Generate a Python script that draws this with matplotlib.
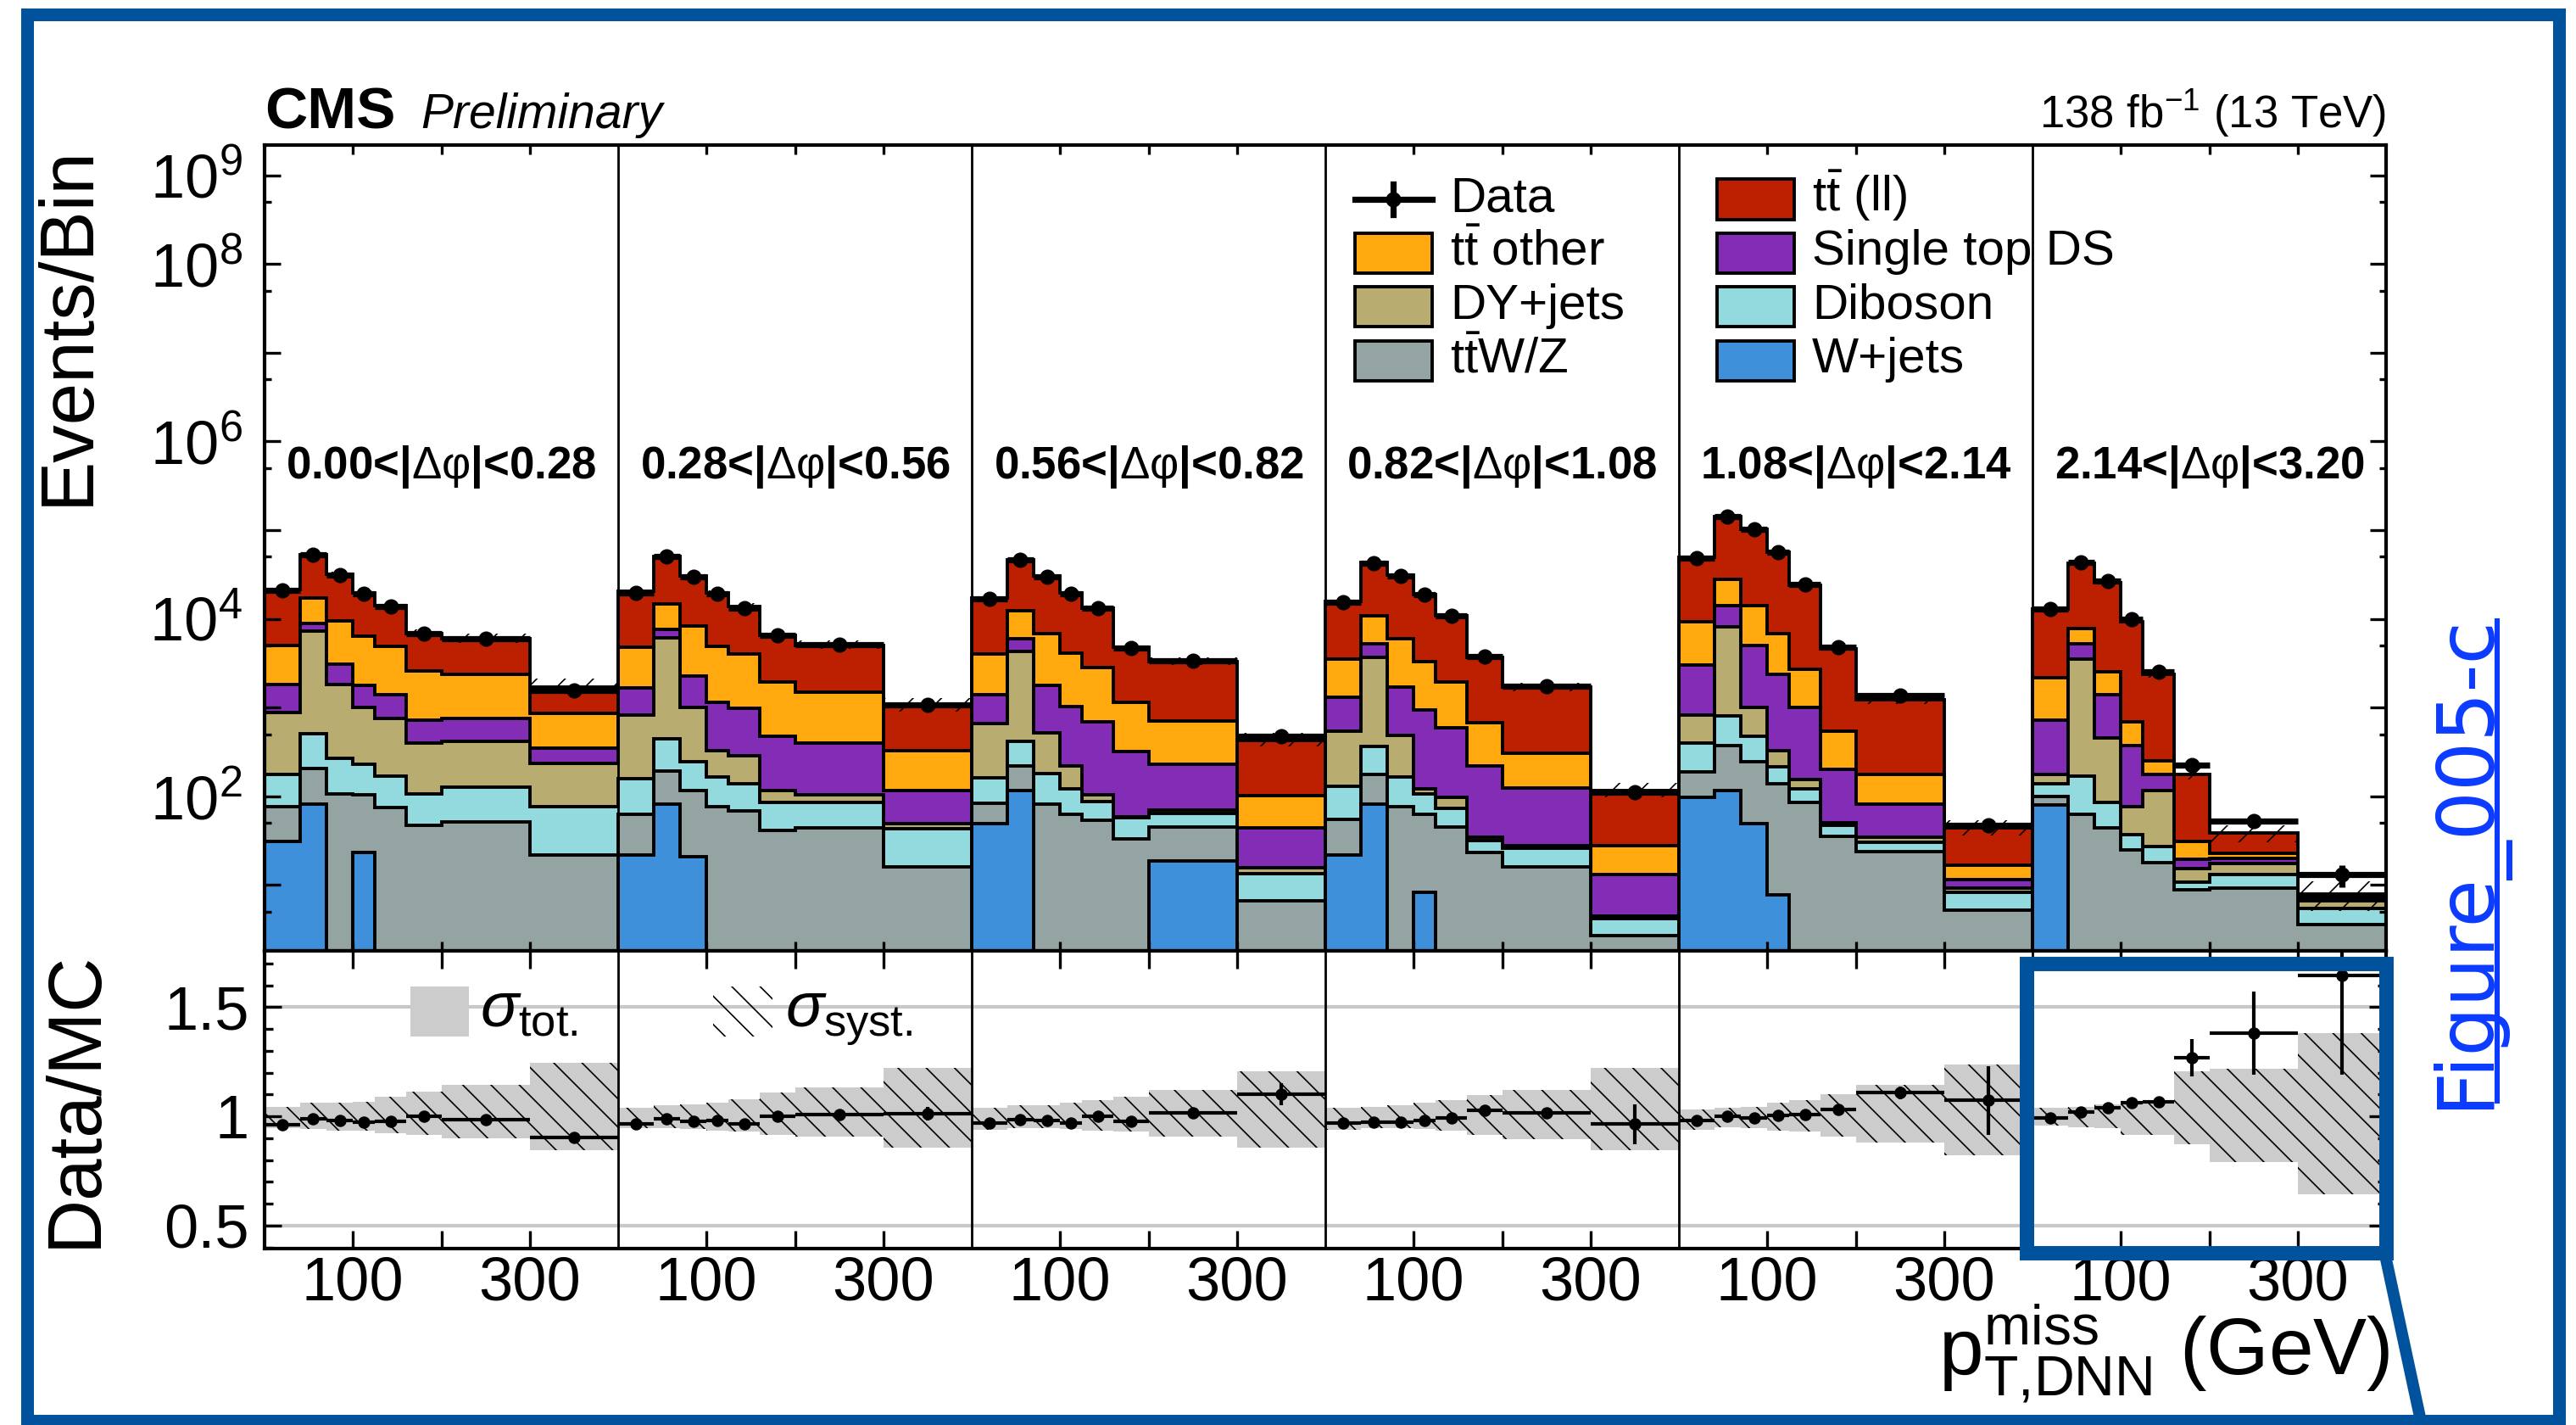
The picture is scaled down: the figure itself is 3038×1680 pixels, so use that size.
#!/usr/bin/python3

import numpy as np
import matplotlib
matplotlib.use("Agg")
import matplotlib.pyplot as plt
import matplotlib.transforms as mtransforms
from matplotlib.patches import Rectangle
from matplotlib.lines import Line2D
from matplotlib.ticker import FixedLocator, FixedFormatter, NullFormatter

plt.rcParams['font.family'] = ['Liberation Sans', 'DejaVu Sans']
plt.rcParams['mathtext.fontset'] = 'custom'
plt.rcParams['mathtext.rm'] = 'Liberation Sans'
plt.rcParams['mathtext.it'] = 'Liberation Sans:italic'
plt.rcParams['mathtext.bf'] = 'Liberation Sans:bold'
plt.rcParams['hatch.linewidth'] = 0.6

W, H = 3038, 1680
DPI = 200

# pT bins (GeV) used inside every |dphi| slice
pt_edges = [0, 40, 70, 100, 125, 160, 200, 300, 400]
dphi_edges = ["0.00", "0.28", "0.56", "0.82", "1.08", "2.14", "3.20"]

# events per bin, one list per |dphi| slice
wjets = [[31, 82, 0, 23.5, 0, 0, 0, 0],
         [22, 82, 21, 0, 0, 0, 0, 0],
         [49, 115, 0, 0, 0, 0, 18.5, 0],
         [22, 82, 0, 8.2, 0, 0, 0, 0],
         [97, 115, 49, 7.7, 0, 0, 0, 0],
         [80, 0, 0, 0, 0, 0, 0, 0]]
ttwz = [[46, 125, 107, 80, 75, 47, 51, 22],
        [41, 112, 94, 77, 69, 41, 44, 16],
        [34, 107, 82, 63, 54, 33, 27, 6.7],
        [33.5, 95, 77, 55, 45.5, 23.5, 16, 2.7],
        [90, 261, 195, 132, 84.5, 35, 24, 5.2],
        [20, 63, 44, 25, 18, 8.75, 9.3, 3.56]]
diboson = [[100, 295, 163, 124, 95, 60, 77, 55],
           [96, 247, 132, 87, 70, 44, 41, 27],
           [77, 196, 100, 59, 34, 24, 18, 6.6],
           [75, 184, 89, 44, 27, 8, 10, 1.5],
           [215, 422, 227, 74, 38, 12, 6.4, 3.0],
           [39, 107, 41, 12, 9, 2.0, 3.7, 1.94]]
dyjets = [[710, 6809, 1562, 785, 587, 294, 290, 160],
          [671, 5725, 765, 166, 149, 30, 20, 6],
          [503, 3897, 341, 99, 16, 2, 7, 2.5],
          [406, 3278, 324, 15, 24, 3, 2, 0.3],
          [428, 7330, 542, 116, 33, 3, 4.3, 1.1],
          [37, 3370, 374, 40, 88, 4.5, 4.4, 1.2]]
singletop = [[945, 1602, 1273, 750, 649, 326, 339, 115],
             [841, 1455, 1279, 823, 684, 355, 297, 66],
             [744, 1683, 1240, 816, 594, 258, 160, 28],
             [778, 1621, 1224, 824, 500, 187, 95, 8.5],
             [2155, 6032, 4046, 2052, 857, 152, 47.5, 2.1],
             [551, 1720, 948, 299, 62, 4.1, 2.4, 0.38]]
ttother = [[3226, 8347, 6423, 4650, 3526, 1884, 1625, 511],
           [3126, 7099, 6065, 3779, 3073, 1484, 1101, 215],
           [2640, 6422, 5093, 3112, 2133, 836, 477, 57],
           [2225, 5600, 4284, 2373, 1357, 459, 186, 15],
           [6305, 13960, 9102, 4473, 1711, 335, 94.6, 5.5],
           [1445, 2556, 1141, 322, 76, 11.3, 2.8, 0.28]]
ttll = [[16520, 35710, 22530, 13270, 9228, 4243, 3616, 851],
        [15660, 36210, 22050, 14750, 9754, 4638, 3555, 722],
        [13210, 34030, 23555, 15530, 10410, 3644, 2611, 328],
        [12200, 32590, 25260, 15600, 8906, 3000, 1406, 87],
        [40260, 114480, 88340, 49765, 21270, 4076, 1056, 26.9],
        [10740, 34540, 23090, 8592, 2129, 146, 15.8, 0.54]]
data = [[20780, 52440, 31420, 19190, 13830, 6855, 5920, 1551],
        [19740, 50320, 29680, 19290, 13320, 6592, 5098, 1065],
        [16730, 45850, 29860, 19070, 13230, 4682, 3375, 473],
        [15240, 42360, 30480, 18580, 10770, 3777, 1743, 111],
        [48560, 142500, 101700, 56790, 24230, 4765, 1366, 47],
        [12830, 43290, 26610, 9857, 2544, 224, 53, 13]]
# relative total uncertainty on the prediction (up / down)
unc_up = [[0.045, 0.061, 0.061, 0.068, 0.092, 0.115, 0.145, 0.246],
          [0.040, 0.052, 0.057, 0.061, 0.080, 0.108, 0.134, 0.224],
          [0.040, 0.052, 0.052, 0.061, 0.075, 0.092, 0.120, 0.207],
          [0.040, 0.045, 0.052, 0.061, 0.075, 0.099, 0.120, 0.224],
          [0.033, 0.038, 0.045, 0.061, 0.075, 0.103, 0.145, 0.238],
          [0.038, 0.045, 0.057, 0.057, 0.068, 0.208, 0.220, 0.382]]
unc_dn = [[0.055, 0.059, 0.064, 0.064, 0.078, 0.083, 0.099, 0.153],
          [0.055, 0.055, 0.059, 0.064, 0.071, 0.083, 0.094, 0.141],
          [0.060, 0.055, 0.055, 0.059, 0.064, 0.071, 0.094, 0.141],
          [0.060, 0.055, 0.055, 0.059, 0.064, 0.083, 0.106, 0.153],
          [0.060, 0.048, 0.055, 0.064, 0.071, 0.094, 0.118, 0.176],
          [0.041, 0.048, 0.055, 0.083, 0.083, 0.129, 0.210, 0.357]]

stack = [wjets, ttwz, diboson, dyjets, singletop, ttother, ttll]
colors = ['#3f90da', '#94a4a2', '#92dadd', '#b9ac70', '#832db6', '#ffa90e', '#bd1f01']

npan = len(dphi_edges) - 1
span = pt_edges[-1]
edges = np.concatenate([np.array(pt_edges[:-1]) + span * i for i in range(npan)] + [[span * npan]])
centers = 0.5 * (edges[1:] + edges[:-1])
halfw = 0.5 * np.diff(edges)


def flat(x):
    return np.array(x, dtype=float).ravel()


def fx(px):
    return px / W


def fy(py):
    return 1 - py / H


fig = plt.figure(figsize=(W / DPI, H / DPI), dpi=DPI)
ax = fig.add_axes([fx(312), fy(1121), 2502 / W, 950 / H])
rax = fig.add_axes([fx(312), fy(1472), 2502 / W, 351 / H], sharex=ax)

# stacked prediction, drawn from the total downwards like THStack
floor = 1e-3
cum = np.zeros(len(centers))
cums = []
for vals in stack:
    cum = cum + flat(vals)
    cums.append(cum.copy())
for c, col in reversed(list(zip(cums, colors))):
    ax.stairs(np.where(c > 0, c, floor), edges, baseline=floor, fill=True,
              facecolor=col, edgecolor='k', linewidth=1.4, zorder=1)

total = cums[-1]
up = flat(unc_up)
dn = flat(unc_dn)
ax.stairs(total * (1 + up), edges, baseline=total * (1 - dn), fill=True,
          facecolor='none', edgecolor='k', hatch='//', linewidth=0, zorder=2)

d = flat(data)
ax.errorbar(centers, d, xerr=halfw, yerr=np.sqrt(d), fmt='o', color='k',
            ms=5.5, elinewidth=2.6, capsize=0, zorder=5)

ax.set_yscale('log')
ax.set_xlim(0, span * npan)
ax.set_ylim(1.81, 2.19e9)
ax.yaxis.set_major_locator(FixedLocator([10.0 ** k for k in range(1, 10)]))
ax.yaxis.set_major_formatter(FixedFormatter(['', r'$10^{2}$', '', r'$10^{4}$', '', r'$10^{6}$', '',
                                             r'$10^{8}$', r'$10^{9}$']))
ax.yaxis.set_minor_locator(FixedLocator([5 * 10.0 ** k for k in range(0, 9)]))
ax.yaxis.set_minor_formatter(NullFormatter())

# ratio panel
rax.axhline(0.5, color='#c8c8c8', lw=1.5, zorder=0)
rax.axhline(1.5, color='#c8c8c8', lw=1.5, zorder=0)
rax.stairs(1 + up, edges, baseline=1 - dn, fill=True, facecolor='#cccccc',
           edgecolor='none', linewidth=0, zorder=1)
rax.stairs(1 + up, edges, baseline=1 - dn, fill=True, facecolor='none',
           edgecolor='k', hatch='\\\\', linewidth=0, zorder=2)
rax.errorbar(centers, d / total, xerr=halfw, yerr=np.sqrt(d) / total, fmt='o',
             color='k', ms=4.2, elinewidth=1.5, capsize=0, zorder=5)
rax.set_ylim(0.395, 1.758)
rax.yaxis.set_major_locator(FixedLocator([0.5, 1.0, 1.5]))
rax.yaxis.set_major_formatter(FixedFormatter(['0.5', '1', '1.5']))
rax.yaxis.set_minor_locator(FixedLocator(np.arange(0.4, 1.76, 0.1)))
rax.yaxis.set_minor_formatter(NullFormatter())

xt = [span * i + t for i in range(npan) for t in (100, 200, 300)]
rax.xaxis.set_major_locator(FixedLocator(xt))
rax.xaxis.set_major_formatter(FixedFormatter(['100', '', '300'] * npan))

for i in range(1, npan):
    ax.axvline(span * i, color='k', lw=1.0, zorder=6)
    rax.axvline(span * i, color='k', lw=1.0, zorder=6)

for a in (ax, rax):
    for s in a.spines.values():
        s.set_linewidth(1.5)
        s.set_zorder(7)
    a.tick_params(which='both', direction='in', top=True, right=True, width=1.2, colors='k')

ax.tick_params(axis='x', length=4, labelbottom=False)
ax.tick_params(axis='y', which='major', length=6.8, labelsize=26, pad=9.5)
ax.tick_params(axis='y', which='minor', length=2.9)
rax.tick_params(axis='x', length=7.6, labelsize=26, pad=3)
rax.tick_params(axis='y', which='major', length=7.2, labelsize=26, pad=6.5)
rax.tick_params(axis='y', which='minor', length=3.6)

# |dphi| slice labels
trans = mtransforms.blended_transform_factory(ax.transData, ax.transAxes)
for i in range(npan):
    lab = dphi_edges[i] + r'<|$\mathrm{\Delta\varphi}$|<' + dphi_edges[i + 1]
    ax.text(span * i + span / 2, 0.6, lab, transform=trans, ha='center', va='center',
            fontsize=19, fontweight='bold', zorder=8)

# titles
fig.text(fx(312), fy(151), 'CMS', fontsize=25, fontweight='bold', va='baseline')
fig.text(fx(496), fy(151), 'Preliminary', fontsize=20.5, style='italic', va='baseline')
fig.text(fx(2814), fy(151), r'138 fb$^{-1}$ (13 TeV)', fontsize=19, ha='right', va='baseline')
fig.text(fx(81), fy(171), 'Events/Bin', rotation=90, fontsize=32, ha='center', va='top')
fig.text(fx(90), fy(1121), 'Data/MC', rotation=90, fontsize=32, ha='center', va='top')
fig.text(fx(2818), fy(1620), r'$\mathrm{p}_{\mathrm{T{,}DNN}}^{\mathrm{miss}}$ (GeV)',
         fontsize=34, ha='right', va='baseline')

# legend, two columns
leg_rows = [235, 298.3, 361.7, 425]
leg_col1 = [('Data', None), (r'$\mathrm{t\bar{t}}$ other', colors[5]),
            ('DY+jets', colors[3]), (r'$\mathrm{t\bar{t}}$W/Z', colors[1])]
leg_col2 = [(r'$\mathrm{t\bar{t}}$ (ll)', colors[6]), ('Single top DS', colors[4]),
            ('Diboson', colors[2]), ('W+jets', colors[0])]
for x0, entries in ((1598, leg_col1), (2025, leg_col2)):
    for yc, (lab, col) in zip(leg_rows, entries):
        if col is None:
            fig.add_artist(Line2D([fx(x0), fx(x0 + 91)], [fy(yc)] * 2, lw=2.6, color='k'))
            fig.add_artist(Line2D([fx(x0 + 45.5)] * 2, [fy(yc - 18), fy(yc + 18)], lw=2.6, color='k'))
            fig.add_artist(Line2D([fx(x0 + 45.5)], [fy(yc)], marker='o', ms=5.5, color='k'))
        else:
            fig.add_artist(Rectangle((fx(x0), fy(yc + 23.5)), 91 / W, 47 / H, transform=fig.transFigure,
                                     facecolor=col, edgecolor='k', lw=1.4))
        fig.text(fx(x0 + 112), fy(yc + 14), lab, fontsize=21, va='baseline')

# ratio legend
fig.add_artist(Rectangle((fx(484), fy(1222)), 69 / W, 59 / H, transform=fig.transFigure,
                         facecolor='#cccccc', edgecolor='none'))
fig.text(fx(566), fy(1211), r'$\sigma_{\mathrm{tot.}}$', fontsize=27, va='baseline')
fig.add_artist(Rectangle((fx(841), fy(1222)), 70 / W, 59 / H, transform=fig.transFigure,
                         facecolor='none', edgecolor='k', hatch='\\\\', lw=0))
fig.text(fx(926), fy(1211), r'$\sigma_{\mathrm{syst.}}$', fontsize=27, va='baseline')

# page annotation around the figure
blue = '#01529c'
fig.add_artist(Rectangle((fx(32), fy(1675)), (3018 - 32) / W, (1675 - 17) / H, transform=fig.transFigure,
                         facecolor='none', edgecolor=blue, lw=5.4))
fig.add_artist(Rectangle((fx(2390), fy(1477)), (2814 - 2390) / W, (1477 - 1136) / H,
                         transform=fig.transFigure, facecolor='none', edgecolor=blue, lw=6.1, zorder=10))
fig.add_artist(Line2D([fx(2813), fx(2856)], [fy(1480), fy(1680)], lw=5, color=blue))
fig.text(fx(2933), fy(1015), 'Figure_005-c', rotation=90, rotation_mode='anchor', fontsize=33,
         color='#0b3bff', family='DejaVu Sans', ha='center', va='baseline')
fig.add_artist(Line2D([fx(2945)] * 2, [fy(732), fy(1298)], lw=2.2, color='#0b3bff'))

fig.savefig('out.png', dpi=DPI)
